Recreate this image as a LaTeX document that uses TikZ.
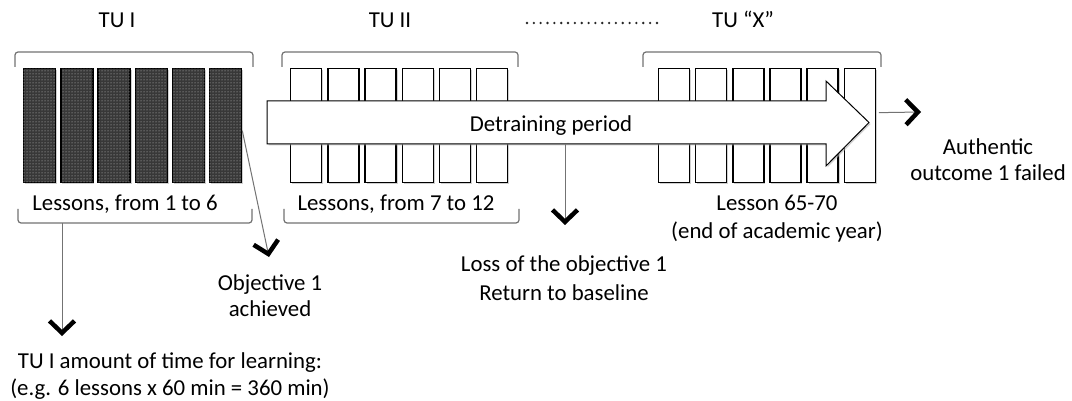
\documentclass[tikz,border=0pt]{standalone}
\usepackage{fontspec}
\setmainfont{Carlito}
\usetikzlibrary{arrows.meta,patterns,shadows}

\begin{document}
\begin{tikzpicture}[x=1pt,y=-1pt,
  lbl/.style={font=\fontsize{22.8}{27}\selectfont, anchor=base, inner sep=0pt},
  barshape/.style={draw=black, line width=1.3pt, minimum width=31pt, minimum height=114pt,
    inner sep=0pt, anchor=north west,
    drop shadow={shadow xshift=1.5pt, shadow yshift=-1.5pt, fill=black!30, opacity=0.6}},
  darkbar/.style={barshape, minimum width=32pt, fill=black!78,
    postaction={pattern=dots, pattern color=black!20}},
  lightbar/.style={barshape, fill=white},
  bracket/.style={draw=black!55, line width=1.2pt, rounded corners=3pt},
  pointer/.style={draw=black!55, line width=1pt,
    -{Straight Barb[color=black, line width=4.5pt, length=12pt, width=25pt]}},
]
\useasboundingbox (0,0) rectangle (1072,401);
\fill[white] (0,0) rectangle (1072,401);

% unit headings
\node[lbl] (tu1) at (117,28) {TU I};
\node[lbl] (tu2) at (390,28) {TU II};
\node[lbl] (tux) at (743,28) {TU “X”};
\draw[line width=2.6pt, line cap=round, dash pattern=on 0pt off 6.84pt, black!85]
  (527,23) -- (657,23);

% top brackets
\draw[bracket] (15,67) -- (15,52) -- (253,52) -- (253,67);
\draw[bracket] (282,67) -- (282,52) -- (518,52) -- (518,67);
\draw[bracket] (643,67) -- (643,52) -- (881,52) -- (881,67);

% lessons
\foreach \i in {0,...,5} {
  \node[darkbar] (d\i) at ({23+37.2*\i},68) {};
  \node[lightbar] (w\i) at ({290+37.2*\i},68) {};
  \node[lightbar] (x\i) at ({658+37.1*\i},68) {};
}

% detraining arrow
\draw[fill=white, line width=1pt,
      drop shadow={shadow xshift=1.5pt, shadow yshift=-1.5pt, fill=black!30, opacity=0.6}]
  (267,101) -- (826,101) -- (826,81) -- (869,122.5) -- (826,166) -- (826,144)
  -- (267,144) -- cycle;
\coordinate (lossfrom) at (565,144);
\node[lbl] (detr) at (551,132) {Detraining period};

% bottom brackets
\draw[bracket] (18,209) -- (18,223) -- (252,223) -- (252,209);
\draw[bracket] (284,209) -- (284,223) -- (519,223) -- (519,209);
\coordinate (tu1from) at (62,223);

% captions under the units
\node[lbl] (les1) at (125,211) {Lessons, from 1 to 6};
\node[lbl] (les2) at (396,211) {Lessons, from 7 to 12};
\node[lbl] (lesx) at (777,211) {Lesson 65-70};
\node[lbl] (lesx2) at (777,238) {(end of academic year)};

% outcomes
\node[lbl] (auth1) at (988,155) {Authentic};
\node[lbl] (auth2) at (988,181) {outcome 1 failed};
\node[lbl] (obj1) at (270,290) {Objective 1};
\node[lbl] (obj2) at (270,316) {achieved};
\node[lbl] (loss1) at (564,272) {Loss of the objective 1};
\node[lbl] (loss2) at (564,300) {Return to baseline};
\node[lbl] (time1) at (170,368) {TU I amount of time for learning:};
\node[lbl] (time2) at (170,395) {(e.g. 6 lessons x 60 min = 360 min)};

% pointers
\coordinate (tu1end) at (62,336);
\coordinate (objend) at (269,257);
\coordinate (lossend) at (565,225);
\coordinate (authend) at (921,112);
\draw[pointer] (tu1from) -- (tu1end);
\draw[pointer] ([yshift=-5pt]d5.east) -- (objend);
\draw[pointer] (lossfrom) -- (lossend);
\draw[pointer] ([yshift=13pt,xshift=3pt]x5.east) -- (authend);
\end{tikzpicture}
\end{document}
